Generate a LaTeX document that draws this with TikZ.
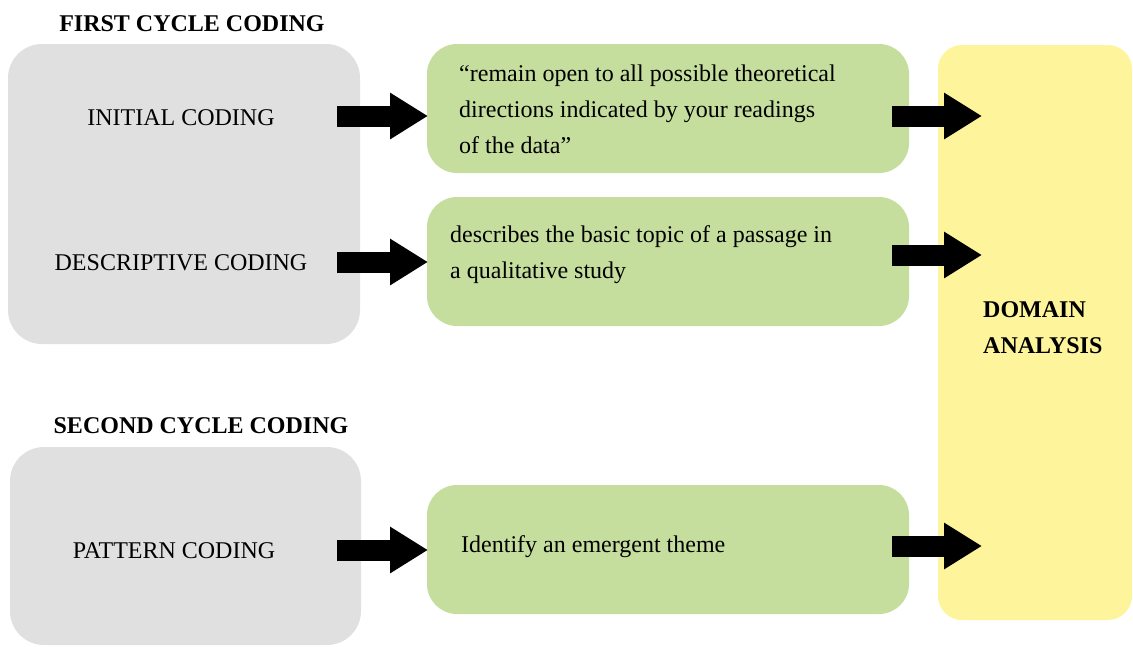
\documentclass[tikz,border=0pt]{standalone}
\usepackage{fontspec}
\setmainfont{Liberation Serif}
\usetikzlibrary{arrows.meta}

\definecolor{boxgray}{HTML}{E0E0E0}
\definecolor{boxgreen}{HTML}{C5DE9E}
\definecolor{boxyellow}{HTML}{FEF49C}

\tikzset{
  panel/.style={draw=none, rounded corners=#1},
  graypanel/.style={panel=34pt, fill=boxgray},
  greenpanel/.style={panel=30pt, fill=boxgreen},
  yellowpanel/.style={panel=24pt, fill=boxyellow},
  label/.style={inner sep=0pt, anchor=base, font=\fontsize{24}{36}\selectfont},
  heading/.style={label, font=\fontsize{24}{36}\selectfont\bfseries},
  desc/.style={inner sep=0pt, anchor=base west, font=\fontsize{24}{36}\selectfont},
  blockarrow/.style={line width=21pt, -{Triangle[length=38pt, width=44pt]}, black}
}

\begin{document}
\begin{tikzpicture}[x=1pt, y=-1pt]
  \useasboundingbox (0,0) rectangle (1133,646);

  % panels
  \path[graypanel]   (8,44)    rectangle (360,344);
  \path[graypanel]   (10,447)  rectangle (361,645);
  \path[greenpanel]  (427,44)  rectangle (909,173);
  \path[greenpanel]  (427,197) rectangle (909,326);
  \path[greenpanel]  (427,485) rectangle (909,614);
  \path[yellowpanel] (938,45)  rectangle (1132,620);

  % section headings
  \node[heading] (first)  at (192,31)  {FIRST CYCLE CODING};
  \node[heading] (second) at (201,433) {SECOND CYCLE CODING};

  % coding methods
  \node[label] (initial)     at (181,125) {INITIAL CODING};
  \node[label] (descriptive) at (181,270) {DESCRIPTIVE CODING};
  \node[label] (pattern)     at (174,558) {PATTERN CODING};

  % descriptions
  \node[desc] (d1a) at (459,81)  {“remain open to all possible theoretical};
  \node[desc] (d1b) at (459,117) {directions indicated by your readings};
  \node[desc] (d1c) at (459,153) {of the data”};
  \node[desc] (d2a) at (450,242) {describes the basic topic of a passage in};
  \node[desc] (d2b) at (450,278) {a qualitative study};
  \node[desc] (d3)  at (461,552) {Identify an emergent theme};

  % result
  \node[desc, font=\fontsize{24}{36}\selectfont\bfseries] (dom) at (983,317) {DOMAIN};
  \node[desc, font=\fontsize{24}{36}\selectfont\bfseries] (ana) at (983,353) {ANALYSIS};

  % arrow end points
  \coordinate (a1s) at (337,116); \coordinate (a1e) at (428,116);
  \coordinate (a2s) at (337,262); \coordinate (a2e) at (428,262);
  \coordinate (a3s) at (337,550); \coordinate (a3e) at (428,550);
  \coordinate (b1s) at (892,116); \coordinate (b1e) at (982,116);
  \coordinate (b2s) at (892,255); \coordinate (b2e) at (982,255);
  \coordinate (b3s) at (892,546); \coordinate (b3e) at (982,546);

  \draw[blockarrow] (a1s) -- (a1e);
  \draw[blockarrow] (a2s) -- (a2e);
  \draw[blockarrow] (a3s) -- (a3e);
  \draw[blockarrow] (b1s) -- (b1e);
  \draw[blockarrow] (b2s) -- (b2e);
  \draw[blockarrow] (b3s) -- (b3e);
\end{tikzpicture}
\end{document}
